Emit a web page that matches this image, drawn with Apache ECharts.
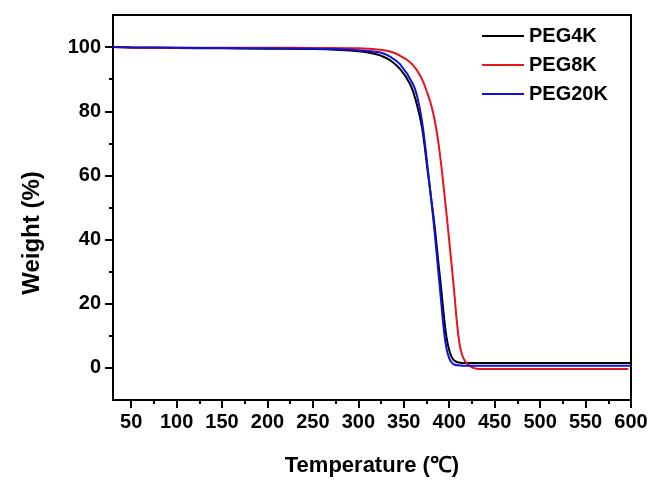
<!DOCTYPE html>
<html>
<head>
<meta charset="utf-8">
<script src="https://cdn.jsdelivr.net/npm/echarts@6/dist/echarts.min.js"></script>
<style>
  html, body { margin: 0; padding: 0; background: #fff; }
  #chart { width: 651px; height: 482px; }
</style>
</head>
<body>
<div id="chart"></div>
<script>
  // TGA data (temperature in C, weight in %)
  var peg4kT = [30, 50, 100, 150, 200, 250, 280, 300, 315, 324, 335, 346, 357, 364, 370, 376, 380, 384, 388, 391, 394, 397, 400, 403, 406, 410, 415, 430, 600]
  var peg4kW = [100, 99.9, 99.7, 99.6, 99.5, 99.4, 99.1, 98.7, 98.1, 97.4, 95.9, 93.1, 88.4, 82.5, 75, 62, 53, 44, 33, 25, 16.5, 9.5, 5.5, 3.2, 2.2, 1.7, 1.55, 1.5, 1.5]

  var peg8kT = [30, 50, 100, 150, 200, 250, 300, 324, 335, 346, 356, 364, 370, 375, 381, 386, 390, 394, 397, 400, 403, 406, 408, 411, 414, 417, 420, 425, 432, 500, 597]
  var peg8kW = [100, 99.9, 99.8, 99.8, 99.8, 99.7, 99.6, 99.2, 98.6, 97.3, 95.5, 93, 90, 86.4, 81, 74, 66, 56, 48, 39.5, 31, 22, 15.5, 8, 4.2, 2.3, 1.2, 0.2, -0.3, -0.3, -0.3]

  var peg20kT = [30, 50, 100, 150, 200, 250, 280, 300, 324, 335, 346, 360, 366, 371, 376, 380, 384, 388, 391, 394, 397, 400, 403, 406, 410, 415, 430, 600]
  var peg20kW = [100, 99.9, 99.8, 99.7, 99.6, 99.5, 99.3, 99.0, 98.3, 97.0, 94.6, 88.5, 83, 75, 63, 53, 42, 30, 21, 12, 6, 3, 1.6, 1.0, 0.8, 0.7, 0.7, 0.7]

  var xTicks = [50, 100, 150, 200, 250, 300, 350, 400, 450, 500, 550, 600]
  var xMinorTicks = [75, 125, 175, 225, 275, 325, 375, 425, 475, 525, 575]
  var yTicks = [0, 20, 40, 60, 80, 100]
  var yMinorTicks = [10, 30, 50, 70, 90]

  function pairs(xs, ys) {
    return xs.map(function (x, i) { return [x, ys[i]] })
  }

  var font = 'Liberation Sans, Arial, sans-serif'
  var chart = echarts.init(document.getElementById('chart'))

  function line(name, color, xs, ys) {
    return {
      name: name,
      type: 'line',
      data: pairs(xs, ys),
      showSymbol: false,
      symbol: 'none',
      smooth: 0.4,
      lineStyle: { color: color, width: 2 },
      itemStyle: { color: color }
    }
  }

  var option = {
    animation: false,
    backgroundColor: '#fff',
    grid: {
      left: 113, right: 20, top: 15, bottom: 81,
      show: true, borderColor: '#000', borderWidth: 2
    },
    legend: {
      orient: 'vertical',
      left: 482, top: 26, padding: 0,
      icon: 'rect',
      itemWidth: 42, itemHeight: 2, itemGap: 9,
      textStyle: { fontFamily: font, fontWeight: 'bold', fontSize: 20, color: '#000' },
      data: ['PEG4K', 'PEG8K', 'PEG20K']
    },
    xAxis: [
      {
        type: 'value', min: 30, max: 600,
        name: 'Temperature (℃)', nameLocation: 'middle', nameGap: 55,
        nameTextStyle: { fontFamily: font, fontWeight: 'bold', fontSize: 22, color: '#000' },
        axisLine: { onZero: false, lineStyle: { color: '#000', width: 2 } },
        axisTick: { customValues: xTicks, length: 8, lineStyle: { color: '#000', width: 2 } },
        axisLabel: { customValues: xTicks, margin: 12, fontFamily: font, fontWeight: 'bold', fontSize: 20, color: '#000' },
        splitLine: { show: false }
      },
      {
        type: 'value', min: 30, max: 600, position: 'bottom',
        axisLine: { show: false, onZero: false },
        axisTick: { customValues: xMinorTicks, length: 4, lineStyle: { color: '#000', width: 2 } },
        axisLabel: { show: false },
        splitLine: { show: false }
      }
    ],
    yAxis: [
      {
        type: 'value', min: -10, max: 110,
        axisLine: { onZero: false, lineStyle: { color: '#000', width: 2 } },
        axisTick: { customValues: yTicks, length: 8, lineStyle: { color: '#000', width: 2 } },
        axisLabel: { customValues: yTicks, margin: 12, fontFamily: font, fontWeight: 'bold', fontSize: 20, color: '#000' },
        splitLine: { show: false }
      },
      {
        type: 'value', min: -10, max: 110, position: 'left',
        axisLine: { show: false, onZero: false },
        axisTick: { customValues: yMinorTicks, length: 4, lineStyle: { color: '#000', width: 2 } },
        axisLabel: { show: false },
        splitLine: { show: false }
      }
    ],
    graphic: [
      {
        type: 'text', x: 32, y: 233, rotation: Math.PI / 2,
        style: {
          text: 'Weight (%)', fontFamily: font, fontWeight: 'bold', fontSize: 24,
          fill: '#000', align: 'center', verticalAlign: 'middle'
        }
      }
    ],
    series: [
      line('PEG4K', '#000000', peg4kT, peg4kW),
      line('PEG8K', '#e8141c', peg8kT, peg8kW),
      line('PEG20K', '#1010dc', peg20kT, peg20kW)
    ]
  }
  chart.setOption(option)
</script>
</body>
</html>
